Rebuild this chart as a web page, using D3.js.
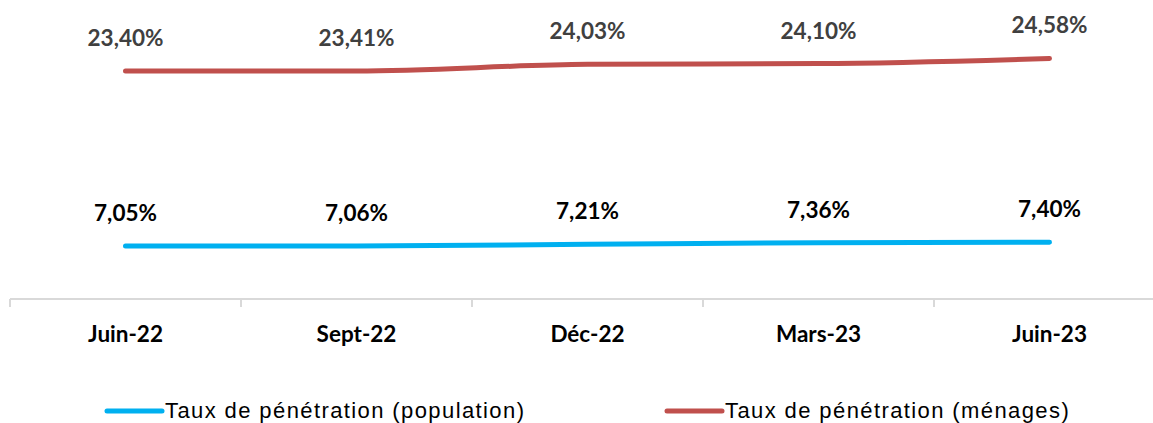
<!DOCTYPE html>
<html lang="fr">
<head>
<meta charset="utf-8">
<script src="https://d3js.org/d3.v7.min.js"></script>
<style>
  body { margin: 0; background: #fff; }
  svg { display: block; }
</style>
</head>
<body>
<div id="chart"></div>
<script>
// données
var categories = ["Juin-22", "Sept-22", "Déc-22", "Mars-23", "Juin-23"];
var population = [7.05, 7.06, 7.21, 7.36, 7.40];
var menages = [23.40, 23.41, 24.03, 24.10, 24.58];
var seriesNames = ["Taux de pénétration (population)", "Taux de pénétration (ménages)"];

var width = 1153, height = 423;
var axisY = 299;

var svg = d3.select("#chart").append("svg")
  .attr("width", width)
  .attr("height", height);

// x : bandes de 231px, la dernière déborde à droite
var x = d3.scaleBand()
  .domain(categories)
  .range([10, 10 + 231 * categories.length]);

var y = d3.scaleLinear()
  .domain([2.1, 27])
  .range([axisY, axisY - 24.9 * 10.7]);

// axe x
var xAxis = svg.append("g");
xAxis.append("line")
  .attr("x1", x.range()[0]).attr("x2", x.range()[1])
  .attr("y1", axisY).attr("y2", axisY)
  .attr("stroke", "#d9d9d9").attr("stroke-width", 2);
xAxis.selectAll(".tick")
  .data(categories)
  .enter().append("line")
  .attr("x1", function(d) { return x(d); })
  .attr("x2", function(d) { return x(d); })
  .attr("y1", axisY).attr("y2", axisY + 8)
  .attr("stroke", "#d9d9d9").attr("stroke-width", 2);
xAxis.selectAll(".lbl")
  .data(categories)
  .enter().append("text")
  .attr("x", function(d) { return x(d) + x.bandwidth() / 2; })
  .attr("y", 342)
  .attr("text-anchor", "middle")
  .style("font-family", "Lato, 'Open Sans', sans-serif")
  .style("font-weight", "bold")
  .style("font-size", "22.5px")
  .attr("fill", "#000")
  .text(function(d) { return d; });

var line = d3.line()
  .x(function(d, i) { return x(categories[i]) + x.bandwidth() / 2; })
  .y(function(d) { return y(d); })
  .curve(d3.curveMonotoneX);

var series = [
  { values: population, color: "#00B0F0", label: "#000000" },
  { values: menages, color: "#C0504D", label: "#404040" }
];

series.forEach(function(s) {
  svg.append("path")
    .datum(s.values)
    .attr("d", line)
    .attr("fill", "none")
    .attr("stroke", s.color)
    .attr("stroke-width", 5)
    .attr("stroke-linecap", "round");

  svg.selectAll(null)
    .data(s.values)
    .enter().append("text")
    .attr("x", function(d, i) { return x(categories[i]) + x.bandwidth() / 2; })
    .attr("y", function(d) { return y(d) - 25; })
    .attr("text-anchor", "middle")
    .style("font-family", "Lato, 'Open Sans', sans-serif")
    .style("font-weight", "bold")
    .style("font-size", "22.5px")
    .attr("fill", s.label)
    .text(function(d) { return d.toFixed(2).replace(".", ",") + "%"; });
});

// légende
var legendX = [107, 667];
seriesNames.forEach(function(name, i) {
  var s = series[i];
  var g = svg.append("g").attr("transform", "translate(" + legendX[i] + ",411)");
  g.append("line")
    .attr("x1", 0).attr("x2", 55)
    .attr("y1", 0).attr("y2", 0)
    .attr("stroke", s.color)
    .attr("stroke-width", 5)
    .attr("stroke-linecap", "round");
  g.append("text")
    .attr("x", 58).attr("y", 7)
    .style("font-family", "'Liberation Sans', Arial, sans-serif")
    .style("font-size", "22px")
    .style("letter-spacing", "1.4px")
    .attr("fill", "#000")
    .text(name);
});
</script>
</body>
</html>
